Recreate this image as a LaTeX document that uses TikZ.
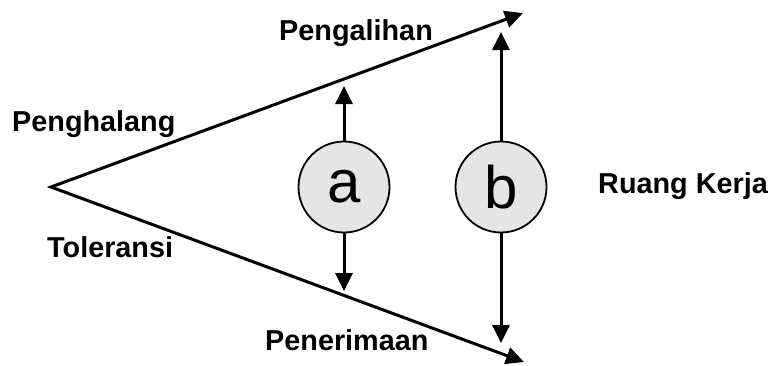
\documentclass[tikz,border=0pt]{standalone}
\usepackage{fontspec}
\setmainfont{Liberation Sans}
\usetikzlibrary{arrows.meta,positioning}

\begin{document}
\begin{tikzpicture}[x=1pt,y=-1pt,
  >={Triangle[length=18pt,width=17pt]},
  edge/.style={line width=3pt,line join=miter},
  lbl/.style={font=\fontsize{28.8}{32}\selectfont\bfseries,inner sep=0pt,anchor=base west},
  zone/.style={circle,draw,line width=1.8pt,fill=black!10,minimum size=91pt,inner sep=0pt,
    font=\fontsize{60}{60}\selectfont}]
\useasboundingbox (0,0) rectangle (773,365);
% funnel
\coordinate (apex) at (51,187);
\coordinate (topend) at (523,13);
\coordinate (botend) at (524,362);
\draw[edge,<->] (topend) -- (apex) -- (botend);
% circles
\node[zone] (ca) at (344,187) {a};
\node[zone] (cb) at (501,187) {b};
\coordinate (caup) at (344,86);
\coordinate (cadn) at (344,291);
\coordinate (cbup) at (501,32);
\coordinate (cbdn) at (501,343);
\draw[edge,->] (ca) -- (caup);
\draw[edge,->] (ca) -- (cadn);
\draw[edge,->] (cb) -- (cbup);
\draw[edge,->] (cb) -- (cbdn);
% labels
\node[lbl] (pengalihan) at (279,40) {Pengalihan};
\node[lbl] (penghalang) at (12,131) {Penghalang};
\node[lbl] (toleransi) at (47,257) {Toleransi};
\node[lbl] (penerimaan) at (265,350) {Penerimaan};
\node[lbl] (ruang) at (598,193) {Ruang Kerja};
\end{tikzpicture}
\end{document}
